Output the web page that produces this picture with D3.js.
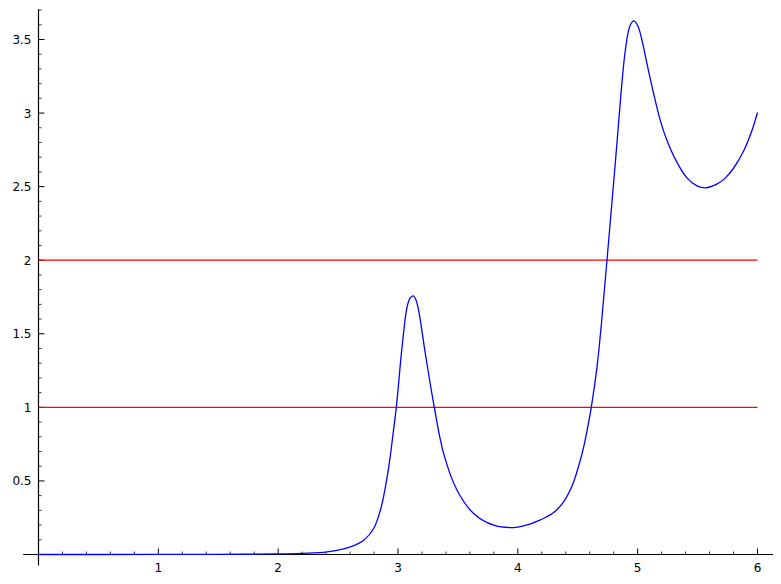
<!DOCTYPE html>
<html>
<head>
<meta charset="utf-8">
<script src="https://cdn.jsdelivr.net/npm/d3@7"></script>
<style>
  html, body { margin: 0; padding: 0; background: #fff; }
  svg { display: block; }
  text { font-family: "DejaVu Sans", sans-serif; font-size: 12px; fill: #000; }
</style>
</head>
<body>
<svg id="chart" width="781" height="584"></svg>
<script>
// ---- data ----
const curveX = [0, 1.0, 1.5, 2.0, 2.2, 2.408, 2.603, 2.714, 2.797, 2.853, 2.895, 2.931, 2.959, 2.986,
  3.034, 3.076, 3.1, 3.126, 3.15, 3.172, 3.228, 3.303, 3.381, 3.493, 3.631, 3.798, 3.965, 4.021, 4.1, 4.188,
  4.299, 4.382, 4.452, 4.507, 4.549, 4.582, 4.613, 4.66, 4.70, 4.744, 4.794, 4.827, 4.861, 4.897, 4.933,
  4.966, 4.999, 5.036, 5.077, 5.133, 5.188, 5.244, 5.328, 5.411, 5.495, 5.564, 5.661, 5.73, 5.8, 5.883,
  5.953, 6.0];
const curveY = [0, 0.0003, 0.001, 0.004, 0.008, 0.018, 0.052, 0.097, 0.177, 0.301, 0.459, 0.641, 0.822, 1.0,
  1.411, 1.683, 1.74, 1.757, 1.73, 1.66, 1.366, 1.0, 0.686, 0.437, 0.279, 0.199, 0.183, 0.19, 0.207, 0.235,
  0.285, 0.358, 0.465, 0.6, 0.73, 0.86, 1.0, 1.27, 1.59, 2.0, 2.476, 2.793, 3.133, 3.427, 3.586,
  3.626, 3.597, 3.495, 3.337, 3.133, 2.952, 2.815, 2.665, 2.56, 2.505, 2.492, 2.517, 2.558, 2.625, 2.74,
  2.88, 3.004];
const hLines = [1, 2];
const xTicks = [1, 2, 3, 4, 5, 6];
const yTicks = [0.5, 1, 1.5, 2, 2.5, 3, 3.5];
const xTickLabels = ["1", "2", "3", "4", "5", "6"];
const yTickLabels = ["0.5", "1", "1.5", "2", "2.5", "3", "3.5"];

// ---- scales ----
const svg = d3.select("#chart");
const x = d3.scaleLinear().domain([0, 6]).range([38.5, 757.5]);
const y = d3.scaleLinear().domain([0, 3.5]).range([554.5, 39.5]);

// ---- axes lines ----
const axisG = svg.append("g");
axisG.append("line")
  .attr("x1", x(-0.128)).attr("x2", x(6.13))
  .attr("y1", y(0)).attr("y2", y(0))
  .attr("stroke", "#000").attr("stroke-width", 1.2);
axisG.append("line")
  .attr("x1", x(0)).attr("x2", x(0))
  .attr("y1", y(-0.075)).attr("y2", y(3.705))
  .attr("stroke", "#000").attr("stroke-width", 1.2);

// minor ticks
const xMinor = d3.range(0, 6.001, 0.2).map(v => +v.toFixed(2)).filter(v => v > 0 && !xTicks.includes(Math.round(v * 10) / 10));
const yMinor = d3.range(0, 3.701, 0.1).map(v => +v.toFixed(2)).filter(v => v > 0 && Math.abs(v * 2 - Math.round(v * 2)) > 1e-6);

axisG.selectAll(".xminor").data(xMinor).join("line")
  .attr("x1", d => x(d)).attr("x2", d => x(d))
  .attr("y1", y(0)).attr("y2", y(0) - 3)
  .attr("stroke", "#000").attr("stroke-width", 0.8);
axisG.selectAll(".yminor").data(yMinor).join("line")
  .attr("y1", d => y(d)).attr("y2", d => y(d))
  .attr("x1", x(0)).attr("x2", x(0) + 3)
  .attr("stroke", "#000").attr("stroke-width", 0.8);

// major ticks
axisG.selectAll(".xmajor").data(xTicks).join("line")
  .attr("x1", d => x(d)).attr("x2", d => x(d))
  .attr("y1", y(0)).attr("y2", y(0) - 6)
  .attr("stroke", "#000").attr("stroke-width", 1);
axisG.selectAll(".ymajor").data(yTicks).join("line")
  .attr("y1", d => y(d)).attr("y2", d => y(d))
  .attr("x1", x(0)).attr("x2", x(0) + 6)
  .attr("stroke", "#000").attr("stroke-width", 1);

// tick labels
axisG.selectAll(".xlab").data(xTicks).join("text")
  .attr("x", d => x(d)).attr("y", y(0) + 17)
  .attr("text-anchor", "middle")
  .text((d, i) => xTickLabels[i]);
axisG.selectAll(".ylab").data(yTicks).join("text")
  .attr("x", x(0) - 7).attr("y", d => y(d) + 4.5)
  .attr("text-anchor", "end")
  .text((d, i) => yTickLabels[i]);

// ---- horizontal red lines ----
svg.append("g").selectAll("line").data(hLines).join("line")
  .attr("x1", x(0)).attr("x2", x(6))
  .attr("y1", d => y(d)).attr("y2", d => y(d))
  .attr("stroke", "#ff0000").attr("stroke-width", 1.2);

// ---- curve ----
const pts = curveX.map((v, i) => [v, curveY[i]]);
const line = d3.line().x(d => x(d[0])).y(d => y(d[1])).curve(d3.curveCatmullRom.alpha(0.5));
svg.append("path")
  .datum(pts)
  .attr("d", line)
  .attr("fill", "none")
  .attr("stroke", "#0000ff")
  .attr("stroke-width", 1.3);
</script>
</body>
</html>
